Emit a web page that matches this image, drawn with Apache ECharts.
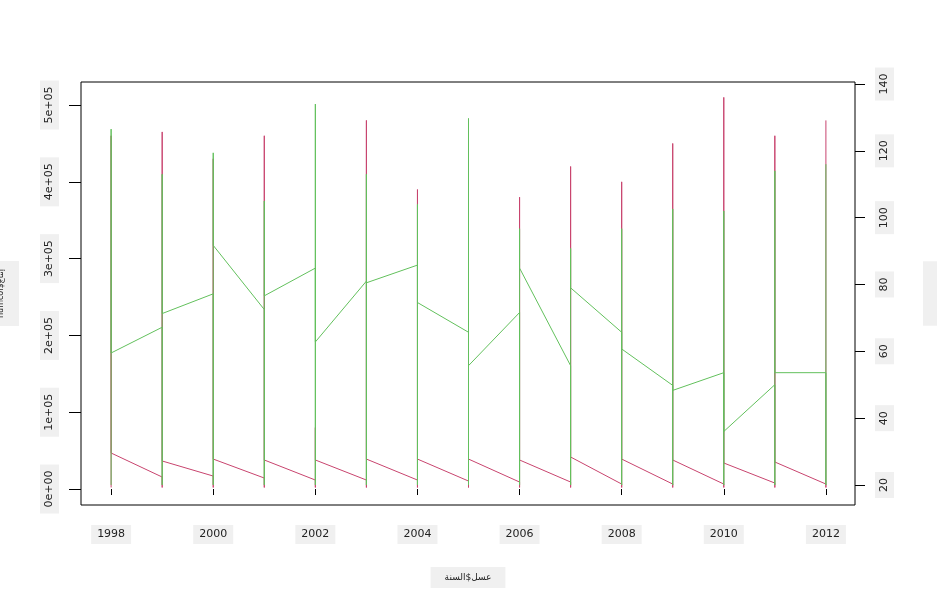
<!DOCTYPE html>
<html><head><meta charset="utf-8">
<script src="https://cdn.jsdelivr.net/npm/echarts@6/dist/echarts.min.js"></script>
<style>html,body{margin:0;padding:0;background:#fff}#c{width:937px;height:605px}</style>
</head><body><div id="c"></div>
<script>
const years=[1998,1999,2000,2001,2002,2003,2004,2005,2006,2007,2008,2009,2010,2011,2012];
// red series (left axis): per-year min, max, value where the year's outgoing segment starts, value where incoming segment ends
const redMin=[2000,2000,2000,2000,2000,2000,2000,2000,2000,2000,2000,2000,2000,2000,2000];
const redMax=[460000,465000,430000,460000,80000,480000,390000,470000,380000,420000,400000,450000,510000,460000,480000];
const redOut=[46900,36500,39000,37800,37800,39000,39000,39000,37800,41700,39000,37800,33900,35200,null];
const redIn=[null,15600,16900,14300,11700,11700,11700,10400,9100,9100,6500,6500,6500,7800,6500];
// green series (right axis)
const grnMin=[20,20,20,20,20,20,20,20,20,20,20,20,20,20,20];
const grnMax=[126.5,113,119.4,105,134,113,104,129.7,96.7,90.8,96.7,102.6,102,114,116];
const grnOut=[59.5,71.3,91.7,76.6,62.8,80.5,74.6,55.7,84.9,79,60.7,48.3,36,53.6,null];
const grnIn=[null,67.2,77.2,72.5,84.9,81,85.8,65.7,71.6,55.7,65.7,49.8,53.6,50,53.6];
const xTicks=[1998,2000,2002,2004,2006,2008,2010,2012];
const leftTicks=[0,100000,200000,300000,400000,500000];
const leftTickLabels=['0e+00','1e+05','2e+05','3e+05','4e+05','5e+05'];
const rightTicks=[20,40,60,80,100,120,140];

function build(mn,mx,outv,inv){
  const pts=[];
  years.forEach((y,i)=>{
    if(inv[i]!=null)pts.push([y,inv[i]]);
    pts.push([y,mn[i]]);pts.push([y,mx[i]]);
    if(outv[i]!=null)pts.push([y,outv[i]]);
  });
  return pts;
}
const lbl={backgroundColor:'#f0f0f0',padding:[4,6],color:'#222',fontFamily:'DejaVu Sans',fontSize:11};
const chart=echarts.init(document.getElementById('c'));
chart.setOption({
  animation:false,
  grid:{left:81,right:82,top:82,bottom:100,containLabel:false,outerBoundsMode:'none',show:true,borderColor:'#000',borderWidth:1},
  xAxis:{type:'value',min:1997.41,max:2012.57,splitLine:{show:false},axisLine:{show:false},
    axisTick:{show:true,length:6,lineStyle:{color:'#000'},customValues:xTicks},
    axisLabel:Object.assign({},lbl,{customValues:xTicks,margin:20,formatter:v=>String(v)}),
    name:'عسل$السنة',nameLocation:'middle',nameGap:62,nameTextStyle:Object.assign({},lbl,{fontSize:9,padding:[6,14]})},
  yAxis:[
    {type:'value',min:-20800,max:530000,splitLine:{show:false},axisLine:{show:false},
     axisTick:{show:true,length:12,lineStyle:{color:'#000'},customValues:leftTicks},
     axisLabel:Object.assign({},lbl,{rotate:90,margin:22,customValues:leftTicks,formatter:v=>leftTickLabels[leftTicks.indexOf(v)]}),
     name:'numcol$إنتاج',nameLocation:'middle',nameGap:62,nameRotate:90,nameTextStyle:Object.assign({},lbl,{fontSize:8,padding:[14,8]})},
    {type:'value',min:14,max:140.6,position:'right',splitLine:{show:false},axisLine:{show:false},
     axisTick:{show:true,length:10,lineStyle:{color:'#000'},customValues:rightTicks},
     axisLabel:Object.assign({},lbl,{rotate:90,margin:20,customValues:rightTicks}),
     name:'متوسط_الخلية',nameLocation:'middle',nameGap:68,nameRotate:90,nameTextStyle:Object.assign({},lbl,{fontSize:8,padding:[14,8]})}
  ],
  series:[
    {type:'line',yAxisIndex:0,data:build(redMin,redMax,redOut,redIn),showSymbol:false,lineStyle:{color:'#c8446e',width:1},z:2},
    {type:'line',yAxisIndex:1,data:build(grnMin,grnMax,grnOut,grnIn),showSymbol:false,lineStyle:{color:'#62c05c',width:1},z:3}
  ]
});
</script></body></html>
